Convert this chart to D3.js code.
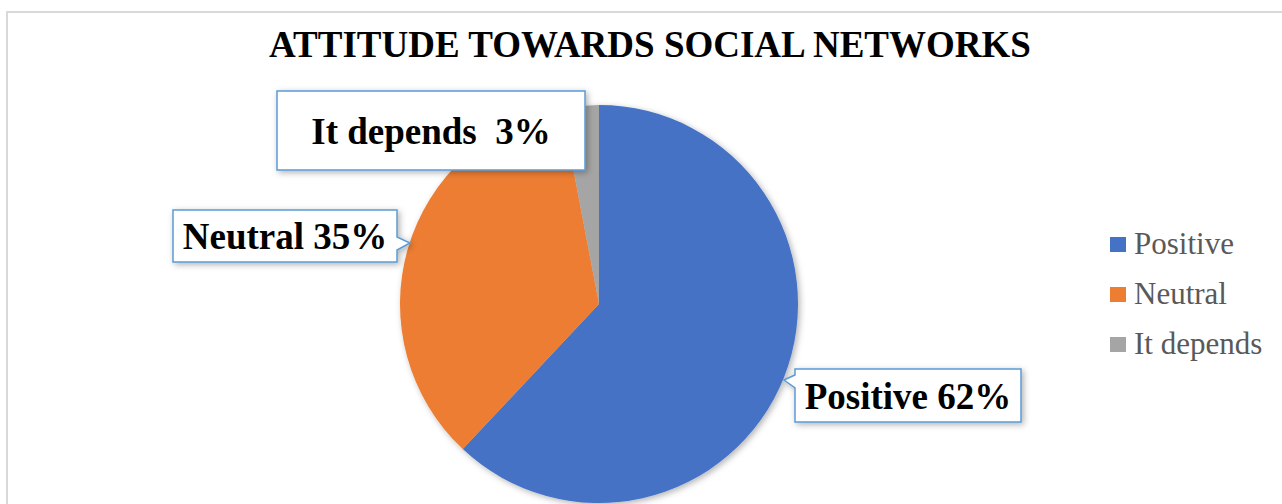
<!DOCTYPE html>
<html>
<head>
<meta charset="utf-8">
<script src="https://cdn.jsdelivr.net/npm/d3@7"></script>
<style>
  body { margin: 0; background: #fff; }
  svg { display: block; }
</style>
</head>
<body>
<div id="chart"></div>
<script>
const categories = ["Positive", "Neutral", "It depends"];
const values = [62, 35, 3];
const labelTexts = ["Positive 62%", "Neutral 35%", "It depends\u00a0\u00a03%"];
const colors = ["#4472C4", "#ED7D31", "#A5A5A5"];

const width = 1282;
const height = 504;
const pie = { cx: 599, cy: 304, r: 199 };

// callout boxes: x, y, w, h, and pointer tip/side
const callouts = [
  { x: 795, y: 369, w: 226, h: 53, side: "left", tip: [784, 380], p0: 375, p1: 388 },
  { x: 173, y: 210, w: 224, h: 52, side: "right", tip: [410, 243], p0: 237, p1: 250 },
  { x: 277, y: 91, w: 308, h: 79, side: "none" }
];

const svg = d3.select("#chart")
  .append("svg")
  .attr("width", width)
  .attr("height", height);

const defs = svg.append("defs");
const shadow = defs.append("filter")
  .attr("id", "shadow")
  .attr("x", "-10%").attr("y", "-10%")
  .attr("width", "130%").attr("height", "130%");
shadow.append("feDropShadow")
  .attr("dx", 2).attr("dy", 2)
  .attr("stdDeviation", 3)
  .attr("flood-color", "#000")
  .attr("flood-opacity", 0.3);

// chart frame
svg.append("rect")
  .attr("x", 7).attr("y", 12)
  .attr("width", width + 10).attr("height", height + 10)
  .attr("fill", "none")
  .attr("stroke", "#d9d9d9")
  .attr("stroke-width", 2);

// title
svg.append("text")
  .attr("x", 650)
  .attr("y", 57)
  .attr("text-anchor", "middle")
  .attr("font-family", "'Liberation Serif', 'Times New Roman', serif")
  .attr("font-weight", "bold")
  .attr("font-size", "37px")
  .attr("fill", "#000")
  .text("ATTITUDE TOWARDS SOCIAL NETWORKS");

// pie
const data = categories.map((c, i) => ({ category: c, value: values[i], label: labelTexts[i], color: colors[i] }));

const arcs = d3.pie()
  .sort(null)
  .value((d) => d.value)(data);

const arc = d3.arc().innerRadius(0).outerRadius(pie.r);

const pieGroup = svg.append("g")
  .attr("transform", `translate(${pie.cx}, ${pie.cy})`)
  .attr("filter", "url(#shadow)");

pieGroup.selectAll("path")
  .data(arcs)
  .enter()
  .append("path")
  .attr("d", arc)
  .attr("fill", (d) => d.data.color);

// callout labels
function calloutPath(c) {
  const x0 = c.x, y0 = c.y, x1 = c.x + c.w, y1 = c.y + c.h;
  if (c.side === "left") {
    return `M${x0},${y0} L${x1},${y0} L${x1},${y1} L${x0},${y1} L${x0},${c.p1} L${c.tip[0]},${c.tip[1]} L${x0},${c.p0} Z`;
  }
  if (c.side === "right") {
    return `M${x0},${y0} L${x1},${y0} L${x1},${c.p0} L${c.tip[0]},${c.tip[1]} L${x1},${c.p1} L${x1},${y1} L${x0},${y1} Z`;
  }
  return `M${x0},${y0} L${x1},${y0} L${x1},${y1} L${x0},${y1} Z`;
}

const labelGroup = svg.append("g");

labelGroup.selectAll("g.callout")
  .data(data)
  .enter()
  .append("g")
  .attr("class", "callout")
  .each(function (d, i) {
    const c = callouts[i];
    const g = d3.select(this);
    g.append("path")
      .attr("d", calloutPath(c))
      .attr("fill", "#fff")
      .attr("stroke", "#5B9BD5")
      .attr("stroke-width", 1.5)
      .attr("filter", "url(#shadow)");
    g.append("text")
      .attr("x", c.x + c.w / 2)
      .attr("y", c.y + c.h / 2 + 13)
      .attr("text-anchor", "middle")
      .attr("font-family", "'Liberation Serif', 'Times New Roman', serif")
      .attr("font-weight", "bold")
      .attr("font-size", "37px")
      .attr("fill", "#000")
      .text(d.label);
  });

// legend
const legendY = d3.scalePoint()
  .domain(categories)
  .range([245, 345]);

const legend = svg.append("g")
  .selectAll("g")
  .data(data)
  .enter()
  .append("g")
  .attr("transform", (d) => `translate(1110, ${legendY(d.category)})`);

legend.append("rect")
  .attr("x", 0)
  .attr("y", -8)
  .attr("width", 16)
  .attr("height", 15)
  .attr("fill", (d) => d.color);

legend.append("text")
  .attr("x", 24)
  .attr("y", 9)
  .attr("font-family", "'Liberation Serif', 'Times New Roman', serif")
  .attr("font-size", "31px")
  .attr("fill", "#595959")
  .text((d) => d.category);
</script>
</body>
</html>
